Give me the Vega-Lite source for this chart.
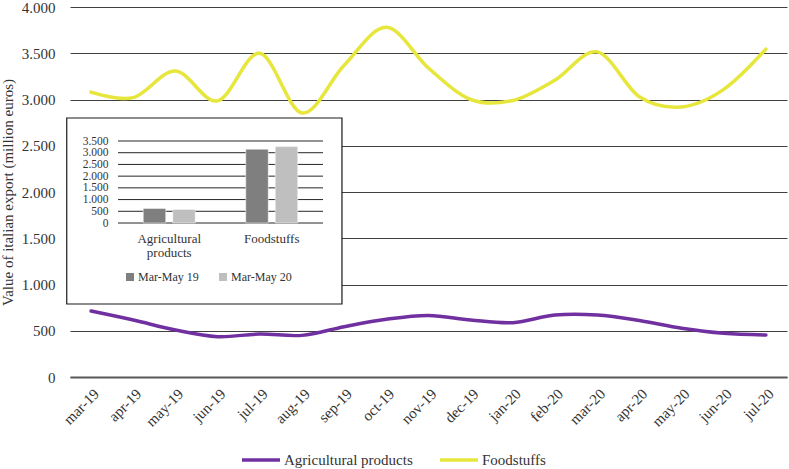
{
  "$schema": "https://vega.github.io/schema/vega-lite/v6.json",
  "width": 717,
  "height": 370,
  "autosize": {"type": "none"},
  "padding": {"left": 70, "top": 7, "right": 2, "bottom": 92},
  "config": {"font": "Liberation Serif", "view": {"stroke": null}},
  "layer": [
    {
      "data": {"values": [
        {"month": "mar-19", "series": "Agricultural products", "value": 713},
        {"month": "apr-19", "series": "Agricultural products", "value": 616},
        {"month": "may-19", "series": "Agricultural products", "value": 508},
        {"month": "jun-19", "series": "Agricultural products", "value": 436},
        {"month": "jul-19", "series": "Agricultural products", "value": 465},
        {"month": "aug-19", "series": "Agricultural products", "value": 450},
        {"month": "sep-19", "series": "Agricultural products", "value": 544},
        {"month": "oct-19", "series": "Agricultural products", "value": 624},
        {"month": "nov-19", "series": "Agricultural products", "value": 665},
        {"month": "dec-19", "series": "Agricultural products", "value": 616},
        {"month": "jan-20", "series": "Agricultural products", "value": 587},
        {"month": "feb-20", "series": "Agricultural products", "value": 670},
        {"month": "mar-20", "series": "Agricultural products", "value": 670},
        {"month": "apr-20", "series": "Agricultural products", "value": 610},
        {"month": "may-20", "series": "Agricultural products", "value": 526},
        {"month": "jun-20", "series": "Agricultural products", "value": 472},
        {"month": "jul-20", "series": "Agricultural products", "value": 454},
        {"month": "mar-19", "series": "Foodstuffs", "value": 3080},
        {"month": "apr-19", "series": "Foodstuffs", "value": 3020},
        {"month": "may-19", "series": "Foodstuffs", "value": 3308},
        {"month": "jun-19", "series": "Foodstuffs", "value": 2985},
        {"month": "jul-19", "series": "Foodstuffs", "value": 3500},
        {"month": "aug-19", "series": "Foodstuffs", "value": 2855},
        {"month": "sep-19", "series": "Foodstuffs", "value": 3370},
        {"month": "oct-19", "series": "Foodstuffs", "value": 3780},
        {"month": "nov-19", "series": "Foodstuffs", "value": 3340},
        {"month": "dec-19", "series": "Foodstuffs", "value": 3000},
        {"month": "jan-20", "series": "Foodstuffs", "value": 2990},
        {"month": "feb-20", "series": "Foodstuffs", "value": 3210},
        {"month": "mar-20", "series": "Foodstuffs", "value": 3515},
        {"month": "apr-20", "series": "Foodstuffs", "value": 3030},
        {"month": "may-20", "series": "Foodstuffs", "value": 2920},
        {"month": "jun-20", "series": "Foodstuffs", "value": 3110},
        {"month": "jul-20", "series": "Foodstuffs", "value": 3545}
      ]},
      "mark": {"type": "line", "interpolate": "cardinal", "strokeWidth": 3.5, "strokeCap": "round"},
      "encoding": {
        "x": {
          "field": "month", "type": "ordinal", "sort": null,
          "scale": {"type": "point", "padding": 0.5},
          "axis": {"title": null, "labelAngle": -45, "labelFontSize": 15, "labelColor": "#333333", "ticks": false, "labelPadding": 9, "domainColor": "#595959", "domainWidth": 2, "grid": false}
        },
        "y": {
          "field": "value", "type": "quantitative",
          "scale": {"domain": [0, 4000], "nice": false},
          "axis": {
            "orient": "left",
            "title": "Value of italian export (million euros)",
            "values": [0, 500, 1000, 1500, 2000, 2500, 3000, 3500, 4000],
            "labelExpr": "replace(format(datum.value, ','), ',', '.')",
            "grid": true, "gridColor": "#404040", "gridWidth": 1,
            "domain": false, "ticks": false, "labelPadding": 15,
            "labelFontSize": 15, "labelColor": "#333333",
            "titleFontSize": 15, "titleFontWeight": "normal", "titleColor": "#333333", "titlePadding": 6
          }
        },
        "color": {
          "field": "series", "type": "nominal",
          "scale": {"domain": ["Agricultural products", "Foodstuffs"], "range": ["#7030a0", "#e6e63c"]},
          "legend": {"orient": "none", "legendX": 170, "legendY": 432, "direction": "horizontal", "title": null, "symbolType": "stroke", "symbolSize": 1444, "symbolStrokeWidth": 3.5, "labelFontSize": 15, "labelColor": "#333333", "columnPadding": 20, "labelOffset": 2}
        }
      }
    },
    {
      "layer": [
        {
          "data": {"values": [{"box": "inset"}]},
          "mark": {"type": "rect", "fill": "white", "stroke": "#1a1a1a", "strokeWidth": 1.2},
          "encoding": {
            "x": {"datum": "Agricultural products", "type": "nominal", "bandPosition": -0.5},
            "x2": {"datum": "Foodstuffs", "bandPosition": 1.185},
            "y": {"datum": 4482, "type": "quantitative"},
            "y2": {"datum": -3457}
          }
        },
        {
          "data": {"values": [{"g": 0}, {"g": 500}, {"g": 1000}, {"g": 1500}, {"g": 2000}, {"g": 2500}, {"g": 3000}, {"g": 3500}]},
          "mark": {"type": "rule", "color": "#262626", "strokeWidth": 1},
          "encoding": {
            "x": {"datum": "Agricultural products", "type": "nominal", "bandPosition": 0},
            "x2": {"datum": "Foodstuffs", "bandPosition": 1},
            "y": {"field": "g", "type": "quantitative"}
          }
        },
        {
          "data": {"values": [
            {"product": "Agricultural products", "period": "Mar-May 19", "value": 620},
            {"product": "Agricultural products", "period": "Mar-May 20", "value": 580},
            {"product": "Foodstuffs", "period": "Mar-May 19", "value": 3150},
            {"product": "Foodstuffs", "period": "Mar-May 20", "value": 3260}
          ]},
          "mark": {"type": "bar", "stroke": "white", "strokeWidth": 0.5},
          "encoding": {
            "x": {
              "field": "product", "type": "nominal",
              "scale": {"type": "band", "domain": ["Agricultural products", "Foodstuffs"], "range": [48, 253], "paddingInner": 0, "paddingOuter": 0},
              "axis": {"orient": "bottom", "offset": -154, "title": null, "labelExpr": "split(datum.label, ' ')", "domain": false, "ticks": false, "grid": false, "labelPadding": 9, "labelFontSize": 13, "labelLineHeight": 14, "labelColor": "#333333", "labelAngle": 0, "labelAlign": "center", "labelBaseline": "top", "zindex": 1}
            },
            "xOffset": {
              "field": "period", "type": "nominal",
              "scale": {"paddingInner": 0.237, "paddingOuter": 0.856}
            },
            "y": {
              "field": "value", "type": "quantitative",
              "scale": {"domain": [0, 3500], "range": [216, 134], "nice": false},
              "axis": {"orient": "left", "offset": -41, "title": null, "values": [0, 500, 1000, 1500, 2000, 2500, 3000, 3500], "labelExpr": "replace(format(datum.value, ','), ',', '.')", "labelOverlap": false, "grid": false, "domain": false, "ticks": false, "labelPadding": 3, "labelFontSize": 11.5, "labelColor": "#333333", "zindex": 1}
            },
            "color": {
              "field": "period", "type": "nominal",
              "scale": {"domain": ["Mar-May 19", "Mar-May 20"], "range": ["#7f7f7f", "#bfbfbf"]},
              "legend": {"orient": "none", "legendX": 54, "legendY": 264, "direction": "horizontal", "title": null, "symbolType": "square", "symbolSize": 64, "symbolStrokeWidth": 0, "labelFontSize": 12, "labelColor": "#333333", "columnPadding": 18, "labelOffset": 2}
            }
          }
        }
      ]
    }
  ],
  "resolve": {
    "scale": {"x": "independent", "y": "independent", "color": "independent", "xOffset": "independent"},
    "axis": {"x": "independent", "y": "independent"},
    "legend": {"color": "independent"}
  }
}
